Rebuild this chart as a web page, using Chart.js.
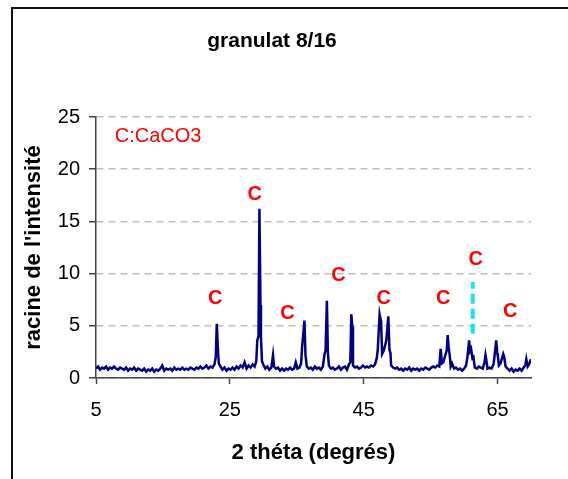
<!DOCTYPE html>
<html>
<head>
<meta charset="utf-8">
<title>granulat 8/16</title>
<script src="https://cdn.jsdelivr.net/npm/chart.js@4"></script>
<style>
    html, body { margin: 0; padding: 0; background: #fff; }
    #wrap { width: 568px; height: 479px; }
</style>
</head>
<body>
<div id="wrap"><canvas id="chart-drx" width="568" height="479"></canvas></div>
<script>
// --------------------------------------------------------------
// data (2 theta in degrees, square root of intensity)
// --------------------------------------------------------------
const twoTheta = [
    5.0, 5.3, 5.6, 5.9, 6.2, 6.5, 6.8, 7.1, 7.4, 7.7,
    8.0, 8.3, 8.6, 8.9, 9.2, 9.5, 9.8, 10.1, 10.4, 10.7,
    11.0, 11.3, 11.6, 11.9, 12.2, 12.5, 12.8, 13.1, 13.4, 13.7,
    14.0, 14.3, 14.6, 14.9, 15.2, 15.5, 15.8, 16.1, 16.4, 16.7,
    17.0, 17.3, 17.6, 17.9, 18.2, 18.5, 18.8, 19.1, 19.4, 19.7,
    20.0, 20.3, 20.6, 20.9, 21.2, 21.5, 21.8, 22.1, 22.4, 22.7,
    22.9, 23.05, 23.2, 23.35, 23.6, 23.9, 24.2, 24.5, 24.8, 25.1,
    25.4, 25.7, 26.0, 26.3, 26.6, 26.9, 27.2, 27.5, 27.8, 28.1,
    28.4, 28.7, 28.95, 29.1, 29.28, 29.42, 29.58, 29.65, 29.8, 30.0,
    30.3, 30.6, 30.9, 31.2, 31.45, 31.6, 31.9, 32.2, 32.5, 32.8,
    33.1, 33.4, 33.7, 34.0, 34.3, 34.6, 34.85, 35.1, 35.4, 35.65,
    35.8, 36.15, 36.3, 36.5, 36.8, 37.1, 37.4, 37.7, 38.0, 38.3,
    38.6, 38.9, 39.15, 39.3, 39.5, 39.65, 39.8, 40.1, 40.4, 40.7,
    41.0, 41.3, 41.6, 41.9, 42.2, 42.5, 42.8, 43.0, 43.15, 43.3,
    43.4, 43.7, 44.0, 44.3, 44.6, 44.9, 45.2, 45.5, 45.8, 46.1,
    46.4, 46.7, 46.95, 47.1, 47.38, 47.6, 47.75, 47.98, 48.15, 48.38,
    48.68, 48.85, 49.0, 49.1, 49.4, 49.7, 50.0, 50.3, 50.6, 50.9,
    51.2, 51.5, 51.8, 52.1, 52.4, 52.7, 53.0, 53.3, 53.6, 53.9,
    54.2, 54.5, 54.8, 55.1, 55.4, 55.7, 56.0, 56.3, 56.5, 56.7,
    56.9, 57.2, 57.4, 57.55, 57.7, 57.85, 58.0, 58.2, 58.5, 58.8,
    59.1, 59.4, 59.7, 60.0, 60.3, 60.5, 60.75, 60.9, 61.05, 61.25,
    61.4, 61.6, 61.9, 62.2, 62.5, 62.8, 63.05, 63.2, 63.35, 63.5,
    63.8, 64.1, 64.4, 64.55, 64.8, 64.95, 65.05, 65.2, 65.45, 65.85,
    66.0, 66.2, 66.5, 66.8, 67.1, 67.4, 67.7, 68.0, 68.3, 68.6,
    68.9, 69.15, 69.3, 69.5, 69.7, 70.0
];
const racineIntensite = [
    0.9, 1.1, 0.8, 1.0, 0.9, 1.1, 0.8, 1.0, 0.9, 1.1,
    0.9, 0.8, 1.0, 0.9, 0.8, 1.0, 0.7, 0.9, 0.8, 1.0,
    0.7, 0.9, 0.8, 0.7, 0.9, 0.6, 0.8, 0.7, 0.9, 0.6,
    0.8, 0.7, 0.9, 1.2, 0.7, 0.9, 0.8, 0.9, 0.7, 1.0,
    0.8, 0.9, 0.8, 1.0, 0.8, 0.9, 0.8, 1.0, 0.9, 0.8,
    1.0, 0.9, 1.1, 0.9, 1.0, 1.2, 0.9, 1.1, 1.0, 1.3,
    2.0, 5.2, 3.0, 1.4, 1.1, 0.8, 1.0, 0.7, 0.9, 0.8,
    1.0, 0.8, 1.1, 0.9, 1.2, 1.0, 1.5, 0.9, 1.2, 1.0,
    1.3, 1.1, 1.6, 3.6, 4.0, 16.2, 7.0, 3.9, 1.6, 1.3,
    0.9, 1.1, 0.8, 1.0, 2.2, 1.1, 0.9, 1.0, 0.7, 0.9,
    0.7, 0.9, 0.8, 1.0, 0.8, 0.9, 1.5, 0.9, 1.0, 1.4,
    3.0, 5.5, 2.2, 1.1, 0.9, 1.0, 0.8, 1.1, 0.9, 1.0,
    0.8, 1.1, 2.3, 2.6, 7.4, 2.4, 1.2, 0.9, 1.0, 0.8,
    0.9, 1.1, 0.8, 1.0, 1.1, 0.8, 1.3, 1.5, 6.1, 4.9,
    1.2, 1.0, 1.1, 0.9, 1.0, 1.2, 1.0, 1.1, 1.0, 1.2,
    1.1, 1.3, 1.9, 2.7, 6.1, 5.4, 2.3, 2.6, 3.0, 3.6,
    5.9, 2.7, 2.4, 1.2, 1.0, 0.9, 1.0, 0.8, 0.9, 0.7,
    0.9, 0.8, 1.0, 0.7, 0.9, 0.8, 0.9, 0.7, 0.9, 0.8,
    1.0, 0.9, 0.8, 1.0, 1.1, 1.0, 1.2, 1.1, 2.8, 1.4,
    1.5, 2.2, 2.6, 4.1, 2.9, 2.2, 1.1, 1.4, 0.9, 1.0,
    0.8, 0.9, 0.7, 0.9, 1.2, 2.0, 3.6, 2.6, 2.8, 1.9,
    2.0, 1.0, 0.9, 1.1, 1.0, 0.9, 1.5, 2.2, 1.6, 0.9,
    1.0, 0.9, 1.3, 2.1, 3.6, 2.4, 2.1, 1.2, 1.4, 2.3,
    2.0, 1.1, 0.9, 0.7, 0.9, 0.6, 0.8, 0.7, 0.9, 0.7,
    1.0, 1.2, 1.8, 1.1, 1.3, 1.8
];

// x tick labels, y range
const xTicks = [5, 25, 45, 65];
const yTicks = [0, 5, 10, 15, 20, 25];

// cyan dashed marker
const markerTheta = [61.3, 61.3];
const markerValue = [4.25, 9.2];

// "C" labels above the calcite peaks
const calciteTheta = [22.8, 28.7, 33.6, 41.25, 48.0, 56.9, 61.75, 66.9];
const calciteValue = [7.6, 17.6, 6.2, 9.8, 7.65, 7.65, 11.35, 6.4];
const legendText = "C:CaCO3";
const legendPos = [7.8, 23.15];

const FONT = "'Liberation Sans', Arial, sans-serif";

// --------------------------------------------------------------
// plugins : frame, title, annotations
// --------------------------------------------------------------
const framePlugin = {
    id: "frame",
    beforeDraw(chart) {
        const ctx = chart.ctx;
        ctx.save();
        ctx.fillStyle = "#fff";
        ctx.fillRect(0, 0, chart.width, chart.height);
        ctx.strokeStyle = "#111";
        ctx.lineWidth = 2;
        ctx.beginPath();
        ctx.moveTo(12, chart.height);
        ctx.lineTo(12, 8);
        ctx.lineTo(chart.width, 8);
        ctx.stroke();

        ctx.fillStyle = "#000";
        ctx.font = "bold 21px " + FONT;
        ctx.textAlign = "center";
        ctx.textBaseline = "middle";
        ctx.fillText("granulat 8/16", 272, 41);
        ctx.restore();
    }
};

const labelsPlugin = {
    id: "calcite",
    afterDatasetsDraw(chart) {
        const ctx = chart.ctx;
        const xs = chart.scales.x, ys = chart.scales.y;
        ctx.save();
        ctx.fillStyle = "#ff0000";
        ctx.textBaseline = "middle";
        ctx.textAlign = "center";
        ctx.font = "bold 20px " + FONT;
        calciteTheta.forEach((t, i) => {
            ctx.fillText("C", xs.getPixelForValue(t), ys.getPixelForValue(calciteValue[i]));
        });
        ctx.textAlign = "left";
        ctx.font = "20px " + FONT;
        ctx.fillText(legendText, xs.getPixelForValue(legendPos[0]), ys.getPixelForValue(legendPos[1]));
        ctx.restore();
    }
};

// --------------------------------------------------------------
// chart
// --------------------------------------------------------------
const ctx = document.getElementById("chart-drx").getContext("2d");
new Chart(ctx, {
    type: "line",
    data: {
        datasets: [
            {
                label: "granulat 8/16",
                data: twoTheta.map((t, i) => ({ x: t, y: racineIntensite[i] })),
                borderColor: "#000080",
                borderWidth: 2.5,
                pointRadius: 0,
                tension: 0,
                fill: false
            },
            {
                label: "marqueur",
                data: markerTheta.map((t, i) => ({ x: t, y: markerValue[i] })),
                borderColor: "#14e4ee",
                borderWidth: 4,
                borderDash: [10, 5],
                pointRadius: 0
            }
        ]
    },
    options: {
        responsive: false,
        animation: false,
        layout: { padding: { top: 117, right: 37, bottom: 0, left: 0 } },
        plugins: {
            legend: { display: false },
            tooltip: { enabled: false },
            title: { display: false }
        },
        scales: {
            x: {
                type: "linear",
                min: 5,
                max: 70,
                afterFit: (s) => { s.height = 101; },
                afterBuildTicks: (s) => { s.ticks = xTicks.map(v => ({ value: v })); },
                grid: {
                    drawOnChartArea: false,
                    drawTicks: true,
                    tickLength: 6,
                    tickColor: "#444",
                    tickWidth: 1.5
                },
                border: { display: true, color: "#444", width: 1.5 },
                ticks: {
                    color: "#000",
                    padding: 14,
                    maxRotation: 0,
                    font: { family: FONT, size: 20 }
                },
                title: {
                    display: true,
                    text: "2 théta (degrés)",
                    color: "#000",
                    padding: 13,
                    font: { family: FONT, size: 22, weight: "bold" }
                }
            },
            y: {
                min: 0,
                max: 25,
                afterFit: (s) => { s.width = 96; },
                afterBuildTicks: (s) => { s.ticks = yTicks.map(v => ({ value: v })); },
                grid: {
                    color: "#bdbdbd",
                    lineWidth: 1.5,
                    drawTicks: true,
                    tickLength: 7,
                    tickColor: "#444",
                    tickWidth: 1.5,
                    tickBorderDash: []
                },
                border: { display: true, color: "#444", width: 1.5, dash: [7, 5] },
                ticks: {
                    color: "#000",
                    padding: 9,
                    font: { family: FONT, size: 20 }
                },
                title: {
                    display: true,
                    text: "racine de l'intensité",
                    color: "#000",
                    padding: 21,
                    font: { family: FONT, size: 22, weight: "bold" }
                }
            }
        }
    },
    plugins: [framePlugin, labelsPlugin]
});
</script>
</body>
</html>
